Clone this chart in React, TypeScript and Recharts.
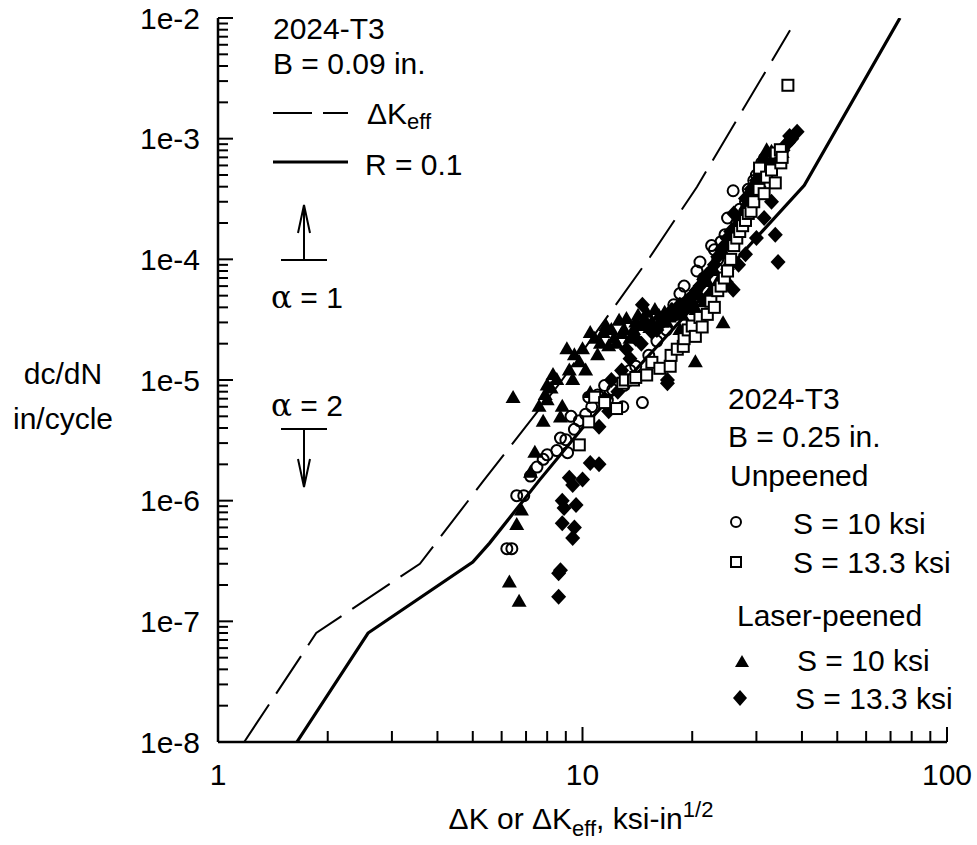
import React from 'react';
import { ScatterChart, Scatter, XAxis, YAxis } from 'recharts';

const FONT = '"Liberation Sans", Arial, Helvetica, sans-serif';
const FS = 30;

// axes
const xMajorTicks = [1, 10, 100];
const xTickLabels = ['1', '10', '100'];
const yMajorTicks = [1e-8, 1e-7, 1e-6, 1e-5, 1e-4, 1e-3, 1e-2];
const yTickLabels = ['1e-8', '1e-7', '1e-6', '1e-5', '1e-4', '1e-3', '1e-2'];
const minorSteps = [2, 3, 4, 5, 6, 7, 8, 9];

const xTicks = [
  ...xMajorTicks,
  ...xMajorTicks.slice(0, -1).flatMap((d) => minorSteps.map((s) => s * d)),
].sort((a, b) => a - b);
const yTicks = [
  ...yMajorTicks,
  ...yMajorTicks.slice(0, -1).flatMap((d) => minorSteps.map((s) => s * d)),
].sort((a, b) => a - b);

// [dK, dc/dN] curves, 2024-T3 B = 0.09 in.
const dKeffCurve: [number, number][] = [
  [1.18, 1e-8], [1.86, 8e-8], [3.58, 3.0e-7], [5.32, 1.43e-6], [8.66, 9.4e-6],
  [15.3, 1.04e-4], [20.6, 3.98e-4], [37.1, 7.9e-3],
];
const r01Curve: [number, number][] = [
  [1.646, 1e-8], [2.58, 8e-8], [5.0, 3.1e-7], [5.56, 4.45e-7], [7.62, 1.48e-6],
  [10, 4e-6], [40.6, 4.1e-4], [74.3, 1e-2],
];

// B = 0.25 in., unpeened
const unpeened10: [number, number][] = [
  [6.2, 4.0e-7], [6.4, 4.0e-7], [6.6, 1.1e-6], [6.9, 1.1e-6], [7.2, 1.6e-6], [7.5, 1.9e-6],
  [7.8, 2.2e-6], [8.0, 2.4e-6], [8.5, 2.6e-6], [8.7, 3.3e-6], [9.0, 3.2e-6], [9.1, 2.5e-6],
  [9.3, 5.0e-6], [9.5, 3.9e-6], [9.8, 4.6e-6], [10.2, 5.2e-6], [10.4, 7.2e-6], [10.6, 6.0e-6],
  [11.0, 7.5e-6], [11.5, 9.0e-6], [11.7, 6.8e-6], [12.1, 8.3e-6], [12.9, 6.0e-6], [13, 9.0e-6],
  [13.5, 1.2e-5], [14, 1.3e-5], [14.6, 6.5e-6], [15.2, 1.6e-5], [16, 2.1e-5], [16.5, 3.2e-5],
  [17, 2.6e-5], [17.8, 4.2e-5], [18.5, 5.2e-5], [19, 6.0e-5], [19.5, 4.0e-5], [20.6, 8.0e-5],
  [21, 9.5e-5], [21.5, 7.0e-5], [22.6, 1.3e-4], [23, 1.2e-4], [23.5, 1.0e-4], [24, 1.4e-4],
  [24.6, 1.6e-4], [25, 2.2e-4], [25.9, 3.7e-4], [26.5, 2.0e-4], [27, 2.6e-4], [28, 3.0e-4],
  [28.5, 3.8e-4], [29.5, 4.5e-4], [30, 5.0e-4], [31, 6.3e-4], [31.5, 6.8e-4], [32.5, 6.0e-4],
];
const unpeened133: [number, number][] = [
  [9.8, 2.9e-6], [10.4, 4.5e-6], [10.8, 7.2e-6], [11.5, 6.5e-6], [12.4, 5.8e-6], [12.9, 9.4e-6],
  [13.1, 1.0e-5], [13.8, 1.0e-5], [14.0, 1.05e-5], [15.0, 1.1e-5], [15.5, 1.4e-5], [16.3, 1.25e-5],
  [17.4, 1.3e-5], [17.5, 1.6e-5], [18.2, 1.8e-5], [18.9, 1.9e-5], [19, 2.2e-5], [19.5, 2.6e-5],
  [20, 2.8e-5], [20.4, 2.3e-5], [21, 3.3e-5], [21.3, 2.75e-5], [22, 3.5e-5], [22.5, 4.5e-5],
  [23, 4.0e-5], [23.5, 5.5e-5], [24, 6.0e-5], [24.5, 7e-5], [25, 8e-5], [25.5, 1.0e-4],
  [26, 1.3e-4], [26.5, 1.5e-4], [27, 1.7e-4], [27.5, 1.9e-4], [28, 2.1e-4], [28.5, 2.4e-4],
  [29, 2.5e-4], [29.5, 3.0e-4], [30.5, 3.8e-4], [30.6, 5.7e-4], [31.5, 3.5e-4], [32, 4.8e-4],
  [33, 5.5e-4], [33.8, 4.3e-4], [34, 7.6e-4], [34.9, 8.1e-4], [35, 6.3e-4], [35.3, 7.0e-4],
  [36.6, 2.77e-3],
];

// laser-peened
const peened10: [number, number][] = [
  [6.3, 2.1e-7], [6.7, 1.45e-7], [6.6, 6.3e-7], [6.8, 8.3e-7], [6.45, 7.1e-6], [7.2, 1.7e-6],
  [7.4, 2.5e-6], [7.6, 6.0e-6], [7.8, 4.5e-6], [7.9, 7.5e-6], [8.0, 6.8e-6], [8.0, 9.0e-6],
  [8.2, 8.5e-6], [8.3, 1.1e-5], [8.5, 1.0e-5], [8.7, 4.9e-6], [8.8, 6.0e-6], [9.06, 1.8e-5],
  [9.2, 1.2e-5], [9.4, 1.0e-5], [9.5, 1.6e-5], [9.8, 1.4e-5], [10, 1.8e-5], [10.2, 1.2e-5],
  [10.5, 2.45e-5], [10.5, 7.8e-6], [10.8, 2.2e-5], [11.0, 1.6e-5], [11.2, 2.0e-5], [11.4, 2.45e-5],
  [11.6, 2.8e-5], [11.8, 1.9e-5], [12.0, 2.6e-5], [12.2, 2.2e-5], [12.4, 2.0e-5], [12.6, 3.1e-5],
  [12.8, 2.4e-5], [13.0, 2.6e-5], [13.2, 3.2e-5], [13.5, 2.2e-5], [13.8, 2.6e-5], [14.0, 3.0e-5],
  [14.2, 3.4e-5], [14.5, 2.8e-5], [14.8, 3.2e-5], [15.0, 3.6e-5], [15.3, 2.7e-5], [15.5, 3.0e-5],
  [15.8, 3.8e-5], [16.2, 3.4e-5], [16.5, 3.0e-5], [16.8, 3.6e-5], [17.0, 3.0e-5], [17.3, 3.3e-5],
  [17.5, 3.8e-5], [18, 3.6e-5], [18.5, 2.6e-5], [18.8, 3.4e-5], [19.0, 4.2e-5], [19.5, 4.0e-5],
  [20, 4.5e-5], [20.4, 1.4e-5], [20.5, 3.8e-5], [21, 5.0e-5], [21.5, 4.4e-5], [22, 6.5e-5],
  [22.5, 5.5e-5], [23, 8e-5], [23.5, 6.5e-5], [24.3, 2.95e-5], [24.5, 1.1e-4], [25, 9e-5],
  [25.5, 1.3e-4], [26, 1.6e-4], [26.5, 1.8e-4], [27.5, 2.5e-4], [28, 2.8e-4], [29, 3.6e-4],
  [29.5, 4.2e-4], [30.5, 4.8e-4], [31, 5.5e-4], [31.5, 7e-4], [32, 8e-4], [33, 7.8e-4],
  [35.3, 7.6e-4],
];
const peened133: [number, number][] = [
  [8.6, 1.6e-7], [8.6, 2.5e-7], [8.7, 2.65e-7], [9.4, 4.9e-7], [9.5, 6.0e-7], [8.8, 6.5e-7],
  [8.9, 8.7e-7], [9.6, 9.2e-7], [8.8, 1.0e-6], [9.4, 1.35e-6], [9.2, 1.55e-6], [10.0, 1.5e-6],
  [10.5, 2.05e-6], [11.1, 2.0e-6], [11.1, 4.1e-6], [11.5, 7e-6], [11.8, 5.5e-6], [12, 1.0e-5],
  [12.5, 8e-6], [12.8, 1.2e-5], [13.2, 1.8e-5], [13.5, 1.5e-5], [14, 2.2e-5], [14.5, 2e-5],
  [14.6, 4.2e-5], [15, 2.8e-5], [15.5, 2.5e-5], [16, 2.6e-5], [16.5, 3e-5], [16.8, 3.4e-5],
  [17.1, 9.4e-6], [17.1, 1.0e-5], [17.6, 3.8e-5], [18, 3.5e-5], [18.5, 4.2e-5], [19, 4e-5],
  [19.5, 4.6e-5], [20, 5e-5], [20.5, 5.5e-5], [21, 6e-5], [21.5, 6.8e-5], [22, 7.5e-5],
  [22.5, 8e-5], [23, 9e-5], [23.5, 1.05e-4], [24, 1.2e-4], [24.5, 1.3e-4], [24.8, 6.5e-5],
  [25, 1.5e-4], [25.5, 1.7e-4], [25.9, 5.6e-5], [26, 2.4e-4], [26.5, 1.9e-4], [26.8, 9e-5],
  [27, 2.1e-4], [27.5, 2.3e-4], [28, 3.2e-4], [28, 1.1e-4], [28.5, 2.8e-4], [29, 3.8e-4],
  [29.5, 3.3e-4], [30, 4.5e-4], [30, 1.5e-4], [30.5, 4e-4], [31, 5.8e-4], [31.5, 5e-4],
  [31.5, 2.2e-4], [32.5, 5.5e-4], [33, 6.2e-4], [33, 3.0e-4], [33.8, 1.6e-4], [34, 6.5e-4],
  [34.4, 9.5e-5], [34.5, 7.2e-4], [35.5, 8e-4], [36, 8.8e-4], [36.7, 9.3e-4], [37, 1.05e-3],
  [37.5, 1.0e-3], [38.8, 1.14e-3],
];

const pts = (a: [number, number][]) => a.map(([x, y]) => ({ x, y }));

const OpenCircle = (p: any) => (
  <circle cx={p.cx} cy={p.cy} r={5.5} fill="none" stroke="#000" strokeWidth={2} />
);
const OpenSquare = (p: any) => (
  <rect x={p.cx - 5.5} y={p.cy - 5.5} width={11} height={11} fill="#fff" stroke="#000" strokeWidth={2} />
);
const Triangle = (p: any) => (
  <polygon points={`${p.cx},${p.cy - 8} ${p.cx - 7.5},${p.cy + 5} ${p.cx + 7.5},${p.cy + 5}`} fill="#000" />
);
const Diamond = (p: any) => (
  <polygon points={`${p.cx},${p.cy - 8} ${p.cx + 7.5},${p.cy} ${p.cx},${p.cy + 8} ${p.cx - 7.5},${p.cy}`} fill="#000" />
);
const NoDot = () => <g />;

function YTick(props: any) {
  const { x, y, payload } = props;
  const i = yMajorTicks.indexOf(payload.value);
  return (
    <g>
      <line x1={x} x2={x + (i >= 0 ? 15 : 10)} y1={y} y2={y} stroke="#000" strokeWidth={2} />
      {i >= 0 && (
        <text x={x - 18} y={y} textAnchor="end" dominantBaseline="central" fontSize={FS} fontFamily={FONT} fill="#000">
          {yTickLabels[i]}
        </text>
      )}
    </g>
  );
}

function XTick(props: any) {
  const { x, y, payload } = props;
  const i = xMajorTicks.indexOf(payload.value);
  return (
    <g>
      <line x1={x} x2={x} y1={y} y2={y - (i >= 0 ? 15 : 11)} stroke="#000" strokeWidth={2} />
      {i >= 0 && (
        <text x={x} y={y + 43} textAnchor="middle" fontSize={FS} fontFamily={FONT} fill="#000">
          {xTickLabels[i]}
        </text>
      )}
    </g>
  );
}

const T = (p: { x: number; y: number; children: React.ReactNode; anchor?: string }) => (
  <text x={p.x} y={p.y} fontSize={FS} fontFamily={FONT} fill="#000" dominantBaseline="central" textAnchor={p.anchor || 'start'}>
    {p.children}
  </text>
);
const Alpha = () => <tspan fontFamily='"DejaVu Serif", "Liberation Serif", serif' fontSize={31}>α</tspan>;

export default function App() {
  return (
    <div style={{ position: 'relative', width: 977, height: 845 }}>
      <style>{'html,body{margin:0;padding:0;overflow:hidden;background:#fff}'}</style>
      <ScatterChart width={977} height={845} margin={{ top: 18, right: 30, bottom: 0, left: 0 }}>
        <XAxis
          type="number"
          dataKey="x"
          scale="log"
          domain={[1, 100]}
          ticks={xTicks}
          interval={0}
          allowDataOverflow
          height={103}
          tickSize={0}
          tickMargin={0}
          tickLine={false}
          axisLine={{ stroke: '#000', strokeWidth: 2.5 }}
          tick={<XTick />}
        />
        <YAxis
          type="number"
          dataKey="y"
          scale="log"
          domain={[1e-8, 1e-2]}
          ticks={yTicks}
          interval={0}
          allowDataOverflow
          width={218}
          tickSize={0}
          tickMargin={0}
          tickLine={false}
          axisLine={{ stroke: '#000', strokeWidth: 2.5 }}
          tick={<YTick />}
        />
        <Scatter
          data={pts(dKeffCurve)}
          line={{ stroke: '#000', strokeWidth: 2, strokeDasharray: '45 13' }}
          shape={<NoDot />}
          isAnimationActive={false}
        />
        <Scatter
          data={pts(r01Curve)}
          line={{ stroke: '#000', strokeWidth: 3.2 }}
          shape={<NoDot />}
          isAnimationActive={false}
        />
        <Scatter data={pts(peened10)} shape={<Triangle />} isAnimationActive={false} />
        <Scatter data={pts(peened133)} shape={<Diamond />} isAnimationActive={false} />
        <Scatter data={pts(unpeened10)} shape={<OpenCircle />} isAnimationActive={false} />
        <Scatter data={pts(unpeened133)} shape={<OpenSquare />} isAnimationActive={false} />
      </ScatterChart>

      <svg
        width={977}
        height={845}
        style={{ position: 'absolute', left: 0, top: 0, pointerEvents: 'none' }}
      >
        <T x={63} y={373} anchor="middle">dc/dN</T>
        <T x={63} y={418} anchor="middle">in/cycle</T>

        <text x={581} y={829} textAnchor="middle" fontSize={FS} fontFamily={FONT} fill="#000">
          ΔK or ΔK<tspan dy={7} fontSize={22}>eff</tspan>
          <tspan dy={-7}>, ksi-in</tspan>
          <tspan dy={-12} fontSize={22}>1/2</tspan>
        </text>

        <T x={273} y={28}>2024-T3</T>
        <T x={273} y={63}>B = 0.09 in.</T>
        <line x1={273} x2={348} y1={113} y2={113} stroke="#000" strokeWidth={2} strokeDasharray="39 11" />
        <text x={367} y={113} fontSize={FS} fontFamily={FONT} fill="#000" dominantBaseline="central">
          ΔK<tspan dy={8} fontSize={22}>eff</tspan>
        </text>
        <line x1={273} x2={348} y1={162} y2={162} stroke="#000" strokeWidth={3.2} />
        <T x={365} y={164}>R = 0.1</T>

        <line x1={281} x2={327} y1={260} y2={260} stroke="#000" strokeWidth={2} />
        <line x1={304} x2={304} y1={260} y2={205} stroke="#000" strokeWidth={2} />
        <polyline points="298,233 304,205 310,233" fill="none" stroke="#000" strokeWidth={2} />
        <T x={307} y={297} anchor="middle"><Alpha /> = 1</T>

        <T x={307} y={405} anchor="middle"><Alpha /> = 2</T>
        <line x1={281} x2={327} y1={429} y2={429} stroke="#000" strokeWidth={2} />
        <line x1={304} x2={304} y1={429} y2={487} stroke="#000" strokeWidth={2} />
        <polyline points="298,459 304,487 310,459" fill="none" stroke="#000" strokeWidth={2} />

        <T x={728} y={398}>2024-T3</T>
        <T x={728} y={436}>B = 0.25 in.</T>
        <T x={730} y={475}>Unpeened</T>
        <circle cx={736} cy={522} r={5} fill="none" stroke="#000" strokeWidth={2} />
        <T x={793} y={523}>S = 10 ksi</T>
        <rect x={731} y={557} width={10} height={10} fill="#fff" stroke="#000" strokeWidth={2} />
        <T x={793} y={562}>S = 13.3 ksi</T>
        <T x={737} y={615}>Laser-peened</T>
        <polygon points="742,655 735,667 749,667" fill="#000" />
        <T x={797} y={660}>S = 10 ksi</T>
        <polygon points="740,690 747,698 740,706 733,698" fill="#000" />
        <T x={795} y={698}>S = 13.3 ksi</T>
      </svg>
    </div>
  );
}
